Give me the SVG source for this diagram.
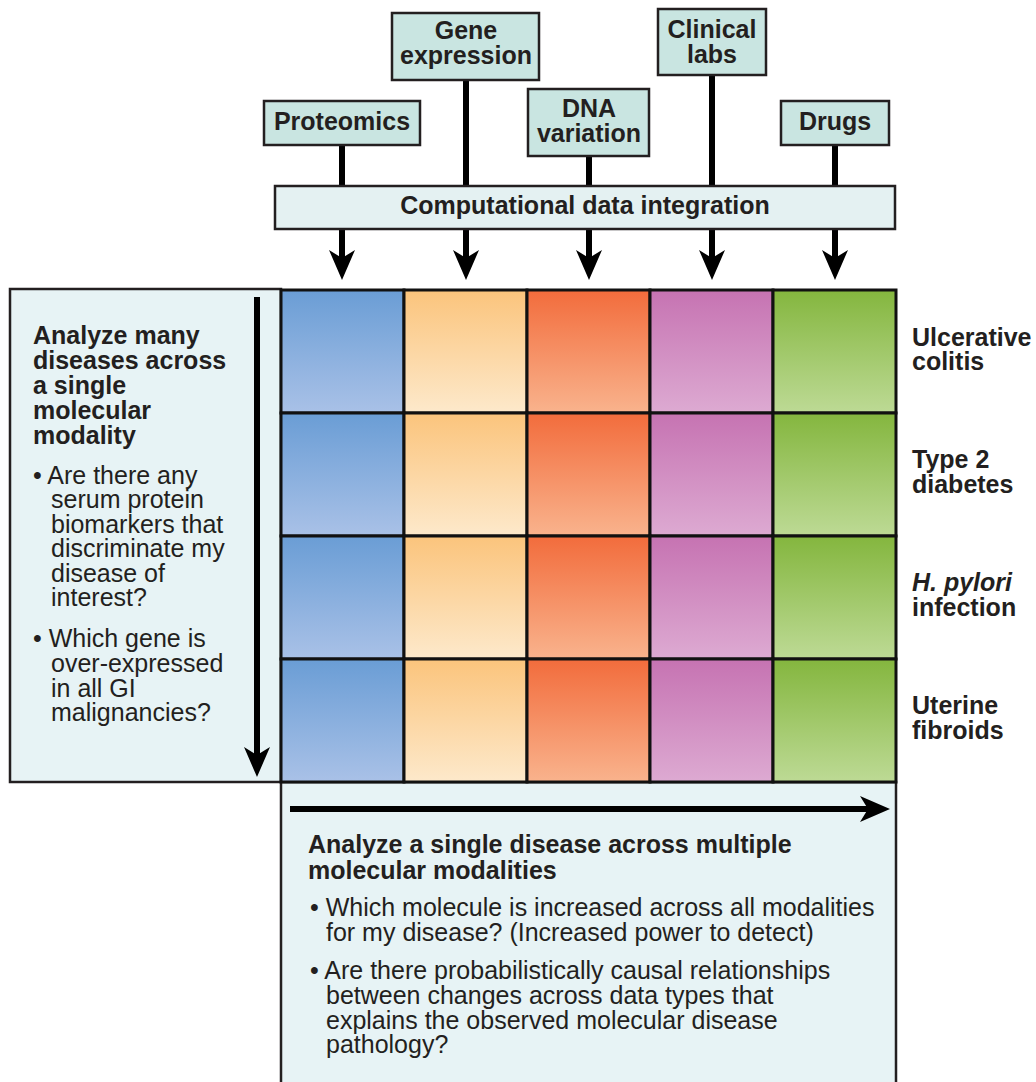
<svg xmlns="http://www.w3.org/2000/svg" width="1036" height="1082" viewBox="0 0 1036 1082">
<style>
.bx{fill:#c9e5e1;stroke:#231f20;stroke-width:2.5}
.bar{fill:#e4f1f2;stroke:#231f20;stroke-width:2.5}
.panel{fill:#e7f3f5;stroke:#231f20;stroke-width:2.5}
.cell{stroke:#111;stroke-width:3}
.b{font-family:"Liberation Sans",Arial,sans-serif;font-weight:bold;font-size:25px;fill:#231f20}
.r{font-family:"Liberation Sans",Arial,sans-serif;font-size:25px;fill:#231f20}
.c{text-anchor:middle}
.ln{stroke:#000;stroke-width:6;fill:none}
.ar{stroke:#000;stroke-width:6;fill:none;marker-end:url(#ah)}
</style>
<defs>
<marker id="ah" viewBox="0 0 30 26" refX="8" refY="13" markerWidth="30" markerHeight="26" markerUnits="userSpaceOnUse" orient="auto">
<path d="M0,0 L30,13 L0,26 L8,13 Z" fill="#000"/>
</marker>
<linearGradient id="gBlue" x1="0" y1="0" x2="0" y2="1"><stop offset="0" stop-color="#6a9dd5"/><stop offset="1" stop-color="#a9c1e7"/></linearGradient>
<linearGradient id="gPeach" x1="0" y1="0" x2="0" y2="1"><stop offset="0" stop-color="#fbc47c"/><stop offset="1" stop-color="#fde9cb"/></linearGradient>
<linearGradient id="gOrange" x1="0" y1="0" x2="0" y2="1"><stop offset="0" stop-color="#f26c3c"/><stop offset="1" stop-color="#f9b38d"/></linearGradient>
<linearGradient id="gPink" x1="0" y1="0" x2="0" y2="1"><stop offset="0" stop-color="#c673b2"/><stop offset="1" stop-color="#ddaad2"/></linearGradient>
<linearGradient id="gGreen" x1="0" y1="0" x2="0" y2="1"><stop offset="0" stop-color="#84b63e"/><stop offset="1" stop-color="#bdda95"/></linearGradient>
</defs>
<rect width="1036" height="1082" fill="#fff"/>

<g id="connectors">
<line class="ln" x1="342" y1="145" x2="342" y2="187"/>
<line class="ln" x1="466" y1="80" x2="466" y2="187"/>
<line class="ln" x1="589" y1="156" x2="589" y2="187"/>
<line class="ln" x1="712" y1="75" x2="712" y2="187"/>
<line class="ln" x1="835" y1="145" x2="835" y2="187"/>
<line class="ar" x1="342" y1="229" x2="342" y2="258"/>
<line class="ar" x1="466" y1="229" x2="466" y2="258"/>
<line class="ar" x1="589" y1="229" x2="589" y2="258"/>
<line class="ar" x1="712" y1="229" x2="712" y2="258"/>
<line class="ar" x1="835" y1="229" x2="835" y2="258"/>
</g>

<g id="proteomics"><rect class="bx" x="264" y="101" width="156" height="44"/><text class="b c" x="342" y="130">Proteomics</text></g>
<g id="gene-expression"><rect class="bx" x="392" y="13" width="147" height="67"/><text class="b c" x="466" y="39">Gene</text><text class="b c" x="466" y="64">expression</text></g>
<g id="dna-variation"><rect class="bx" x="528" y="89" width="121" height="67"/><text class="b c" x="589" y="117">DNA</text><text class="b c" x="589" y="142">variation</text></g>
<g id="clinical-labs"><rect class="bx" x="658" y="9" width="108" height="66"/><text class="b c" x="712" y="38">Clinical</text><text class="b c" x="712" y="63">labs</text></g>
<g id="drugs"><rect class="bx" x="781" y="101" width="108" height="44"/><text class="b c" x="835" y="130">Drugs</text></g>
<g id="integration"><rect class="bar" x="275" y="186" width="620" height="43"/><text class="b c" x="585" y="214">Computational data integration</text></g>

<g id="left-panel">
<rect class="panel" x="10" y="289" width="271" height="493"/>
<text class="b" x="33" y="344">Analyze many</text>
<text class="b" x="33" y="369">diseases across</text>
<text class="b" x="33" y="394">a single</text>
<text class="b" x="33" y="419">molecular</text>
<text class="b" x="33" y="444">modality</text>
<text class="r" x="33" y="484">• Are there any</text>
<text class="r" x="51" y="508">serum protein</text>
<text class="r" x="51" y="533">biomarkers that</text>
<text class="r" x="51" y="557">discriminate my</text>
<text class="r" x="51" y="582">disease of</text>
<text class="r" x="51" y="606">interest?</text>
<text class="r" x="33" y="647">• Which gene is</text>
<text class="r" x="51" y="672">over-expressed</text>
<text class="r" x="51" y="697">in all GI</text>
<text class="r" x="51" y="721">malignancies?</text>
<line class="ar" x1="257" y1="297" x2="257" y2="755"/>
</g>

<g id="bottom-panel">
<rect class="panel" x="281" y="782" width="615" height="310"/>
<line class="ar" x1="290" y1="809" x2="868" y2="809"/>
<text class="b" x="308" y="853">Analyze a single disease across multiple</text>
<text class="b" x="308" y="879">molecular modalities</text>
<text class="r" x="310" y="916">• Which molecule is increased across all modalities</text>
<text class="r" x="326" y="941">for my disease? (Increased power to detect)</text>
<text class="r" x="310" y="979">• Are there probabilistically causal relationships</text>
<text class="r" x="326" y="1004">between changes across data types that</text>
<text class="r" x="326" y="1029">explains the observed molecular disease</text>
<text class="r" x="326" y="1053">pathology?</text>
</g>

<g id="grid">
<rect class="cell" x="281" y="290" width="123" height="123" fill="url(#gBlue)"/>
<rect class="cell" x="404" y="290" width="123" height="123" fill="url(#gPeach)"/>
<rect class="cell" x="527" y="290" width="123" height="123" fill="url(#gOrange)"/>
<rect class="cell" x="650" y="290" width="123" height="123" fill="url(#gPink)"/>
<rect class="cell" x="773" y="290" width="123" height="123" fill="url(#gGreen)"/>
<rect class="cell" x="281" y="413" width="123" height="123" fill="url(#gBlue)"/>
<rect class="cell" x="404" y="413" width="123" height="123" fill="url(#gPeach)"/>
<rect class="cell" x="527" y="413" width="123" height="123" fill="url(#gOrange)"/>
<rect class="cell" x="650" y="413" width="123" height="123" fill="url(#gPink)"/>
<rect class="cell" x="773" y="413" width="123" height="123" fill="url(#gGreen)"/>
<rect class="cell" x="281" y="536" width="123" height="123" fill="url(#gBlue)"/>
<rect class="cell" x="404" y="536" width="123" height="123" fill="url(#gPeach)"/>
<rect class="cell" x="527" y="536" width="123" height="123" fill="url(#gOrange)"/>
<rect class="cell" x="650" y="536" width="123" height="123" fill="url(#gPink)"/>
<rect class="cell" x="773" y="536" width="123" height="123" fill="url(#gGreen)"/>
<rect class="cell" x="281" y="659" width="123" height="123" fill="url(#gBlue)"/>
<rect class="cell" x="404" y="659" width="123" height="123" fill="url(#gPeach)"/>
<rect class="cell" x="527" y="659" width="123" height="123" fill="url(#gOrange)"/>
<rect class="cell" x="650" y="659" width="123" height="123" fill="url(#gPink)"/>
<rect class="cell" x="773" y="659" width="123" height="123" fill="url(#gGreen)"/>
</g>

<g id="row-labels">
<text class="b" x="912" y="346">Ulcerative</text>
<text class="b" x="912" y="370">colitis</text>
<text class="b" x="912" y="468">Type 2</text>
<text class="b" x="912" y="493">diabetes</text>
<text class="b" x="912" y="591"><tspan font-style="italic">H. pylori</tspan></text>
<text class="b" x="912" y="616">infection</text>
<text class="b" x="912" y="714">Uterine</text>
<text class="b" x="912" y="739">fibroids</text>
</g>
</svg>
